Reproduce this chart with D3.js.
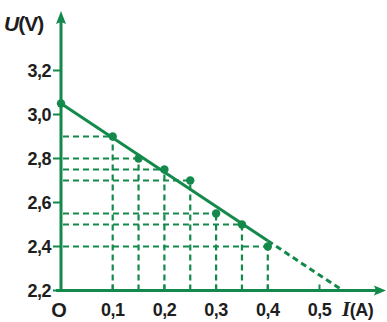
<!DOCTYPE html>
<html>
<head>
<meta charset="utf-8">
<script src="https://cdn.jsdelivr.net/npm/d3@7"></script>
<style>
  html, body { margin: 0; padding: 0; background: #fff; }
  svg { display: block; }
  text { font-family: "Liberation Sans", Arial, sans-serif; font-weight: bold; fill: #1e1e1e; }
</style>
</head>
<body>
<svg id="chart" width="387" height="322"></svg>
<script>
// Measured current I (A) and terminal voltage U (V)
const currents = [0, 0.1, 0.15, 0.2, 0.25, 0.3, 0.35, 0.4];
const voltages = [3.05, 2.9, 2.8, 2.75, 2.7, 2.55, 2.5, 2.4];

// Fitted line: solid over measured range, dashed extrapolation to U = 2.2
const fitSolidI = [0, 0.4];
const fitSolidU = [3.05, 2.426];
const fitExtI = [0.4, 0.545];
const fitExtU = [2.426, 2.2];

const xTicks = [0.1, 0.2, 0.3, 0.4, 0.5];
const xTickLabels = ["0,1", "0,2", "0,3", "0,4", "0,5"];
const yTicks = [2.2, 2.4, 2.6, 2.8, 3.0, 3.2];
const yTickLabels = ["2,2", "2,4", "2,6", "2,8", "3,0", "3,2"];

const green = "#138a4b";
const svg = d3.select("#chart");

const x = d3.scaleLinear().domain([0, 0.5]).range([61, 319.5]);
const y = d3.scaleLinear().domain([2.2, 3.2]).range([290.5, 70.5]);

// Guide dashes from each point to the axes
const pts = currents.map((c, i) => ({ I: c, U: voltages[i] })).filter(d => d.I > 0);
const guides = svg.append("g").attr("stroke", green).attr("stroke-width", 2.2)
  .attr("stroke-dasharray", "6,4").attr("fill", "none");
guides.selectAll("line.h").data(pts).join("line").attr("class", "h")
  .attr("x1", x(0) + 2).attr("x2", d => x(d.I))
  .attr("y1", d => y(d.U)).attr("y2", d => y(d.U));
guides.selectAll("line.v").data(pts).join("line").attr("class", "v")
  .attr("x1", d => x(d.I)).attr("x2", d => x(d.I))
  .attr("y1", y(2.2)).attr("y2", d => y(d.U));

// Axes with arrowheads
const axisG = svg.append("g").attr("stroke", green).attr("stroke-width", 3).attr("fill", "none");
axisG.append("line").attr("x1", 56).attr("x2", 378).attr("y1", y(2.2)).attr("y2", y(2.2));
axisG.append("line").attr("x1", x(0)).attr("x2", x(0)).attr("y1", y(2.2) + 1).attr("y2", 20);
svg.append("path").attr("fill", green)
  .attr("d", `M386,${y(2.2)} L374,${y(2.2) - 5} L376,${y(2.2)} L374,${y(2.2) + 5} Z`);
svg.append("path").attr("fill", green)
  .attr("d", `M${x(0)},11 L${x(0) - 5},24 L${x(0)},22 L${x(0) + 5},24 Z`);

// Tick marks
svg.append("g").attr("stroke", green).attr("stroke-width", 2)
  .selectAll("line").data(yTicks).join("line")
  .attr("x1", 53).attr("x2", x(0)).attr("y1", d => y(d)).attr("y2", d => y(d));
svg.append("g").attr("stroke", green).attr("stroke-width", 2)
  .selectAll("line").data(xTicks).join("line")
  .attr("x1", d => x(d)).attr("x2", d => x(d)).attr("y1", y(2.2)).attr("y2", y(2.2) - 6);

// Fitted line
const line = d3.line().x(d => x(d[0])).y(d => y(d[1]));
svg.append("path").datum(fitSolidI.map((c, i) => [c, fitSolidU[i]]))
  .attr("d", line).attr("stroke", green).attr("stroke-width", 3).attr("fill", "none");
svg.append("path").datum(fitExtI.map((c, i) => [c, fitExtU[i]]))
  .attr("d", line).attr("stroke", green).attr("stroke-width", 3)
  .attr("stroke-dasharray", "6,4").attr("fill", "none");

// Data points
svg.append("g").attr("fill", green).selectAll("circle")
  .data(currents.map((c, i) => ({ I: c, U: voltages[i] }))).join("circle")
  .attr("cx", d => x(d.I)).attr("cy", d => y(d.U)).attr("r", 4.2);

// Tick labels
svg.append("g").selectAll("text").data(yTicks).join("text")
  .attr("x", 51).attr("y", d => y(d) + 6.5).attr("text-anchor", "end")
  .attr("font-size", 18).attr("letter-spacing", -0.5)
  .text((d, i) => yTickLabels[i]);
svg.append("g").selectAll("text").data(xTicks).join("text")
  .attr("x", d => x(d)).attr("y", 316).attr("text-anchor", "middle")
  .attr("font-size", 18).attr("letter-spacing", -0.5)
  .text((d, i) => xTickLabels[i]);
svg.append("text").attr("x", 59).attr("y", 317).attr("text-anchor", "middle")
  .attr("font-size", 20).text("O");

// Axis titles
const uLabel = svg.append("text").attr("x", 4).attr("y", 31).attr("font-size", 21)
  .attr("letter-spacing", -1);
uLabel.append("tspan").attr("font-style", "italic").text("U");
uLabel.append("tspan").text("(V)");
const iLabel = svg.append("text").attr("x", 342).attr("y", 316).attr("font-size", 18)
  .attr("letter-spacing", -0.5);
iLabel.append("tspan").attr("font-family", "Liberation Serif, serif").attr("font-style", "italic")
  .attr("font-size", 21).text("I");
iLabel.append("tspan").text("(A)");
</script>
</body>
</html>
